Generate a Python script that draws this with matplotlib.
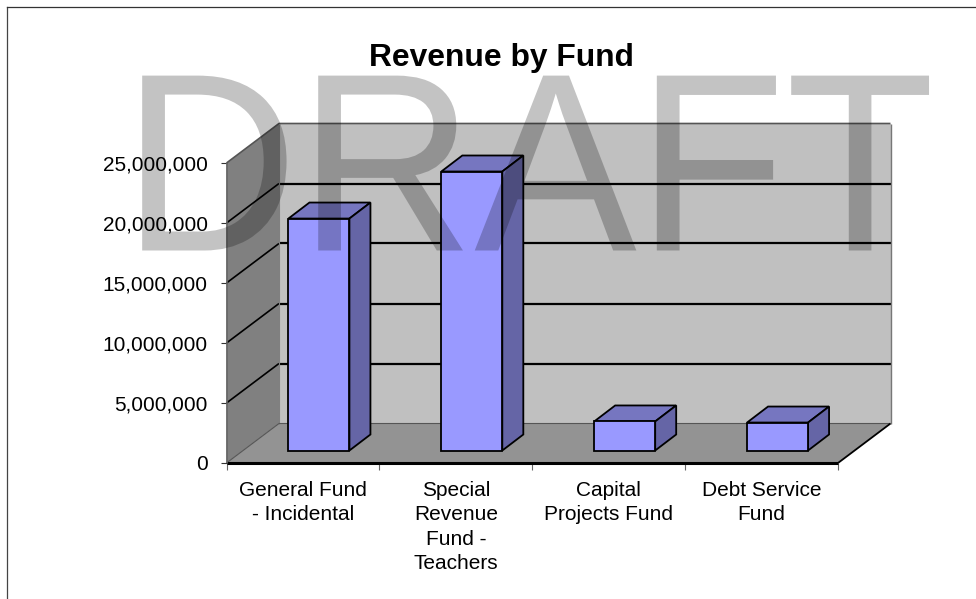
import matplotlib
matplotlib.use("Agg")
import matplotlib.pyplot as plt
import matplotlib.patheffects as pe
from matplotlib.patches import Polygon
from matplotlib.transforms import Affine2D

categories = ["General Fund\n- Incidental", "Special\nRevenue\nFund -\nTeachers",
              "Capital\nProjects Fund", "Debt Service\nFund"]
values = [19330000, 23250000, 2420000, 2330000]
y_ticks = [0, 5000000, 10000000, 15000000, 20000000, 25000000]
title = "Revenue by Fund"
watermark = "DRAFT"

W, H = 976, 599
plt.rcParams["font.family"] = ["Liberation Sans", "DejaVu Sans"]
fig = plt.figure(figsize=(W / 100, H / 100), dpi=100, facecolor="white")
L, R, T, B = 226.5, 838.0, 163.0, 463.0
ax = fig.add_axes([L / W, 1 - B / H, (R - L) / W, (B - T) / H])
ax.set_xlim(0, len(categories))
ax.set_ylim(0, y_ticks[-1])
ax.patch.set_alpha(0)
for s in ax.spines.values():
    s.set_visible(False)

# pixel sizes expressed in data units
px = len(categories) / (R - L)
py = y_ticks[-1] / (B - T)
DX, DY = 52.5 * px, 39.5 * py          # depth of the whole box
BX, BY = 16 * px, 12.5 * py            # front inset of bars
SX, SY = 21 * px, 16 * py              # bar depth
BW = 61 * px                           # bar width


def poly(pts, fc, ec="none", lw=0, z=1):
    ax.add_patch(Polygon(pts, closed=True, fc=fc, ec=ec, lw=lw, zorder=z,
                         clip_on=False, joinstyle="miter"))


def line(xs, ys, c="black", lw=1.5, z=2):
    ax.plot(xs, ys, color=c, lw=lw, zorder=z, clip_on=False, solid_capstyle="butt")


n, top = len(categories), y_ticks[-1]
# walls and floor
poly([(DX, DY), (n + DX, DY), (n + DX, top + DY), (DX, top + DY)], "#c0c0c0")
poly([(0, 0), (DX, DY), (DX, top + DY), (0, top)], "#808080")
poly([(0, 0), (n, 0), (n + DX, DY), (DX, DY)], "#939393")

# grid
for v in y_ticks[1:-1]:
    line([0, DX], [v, v + DY], "black", 1.2)
    line([DX, n + DX], [v + DY, v + DY], "black", 1.6)
line([0, DX, n + DX], [top, top + DY, top + DY], "#555555", 1.2)
line([n + DX, n + DX], [top + DY, DY], "#777777", 1.0)
line([DX, DX], [DY, top + DY], "#808080", 0.8)
line([0, DX, n + DX], [0, DY, DY], "#555555", 0.8)
line([n, n + DX], [0, DY], "black", 1.3)
line([0, n], [0, 0], "black", 2.2, z=3)
line([0, 0], [0, top], "#666666", 1.2, z=3)

# bars
for i, v in enumerate(values):
    x0 = i + 0.5 - BW / 2 + BX
    x1 = x0 + BW
    b = BY
    t = BY + v
    poly([(x0, t), (x1, t), (x1 + SX, t + SY), (x0 + SX, t + SY)], "#7676c0", "black", 1.3, 5)
    poly([(x1, b), (x1 + SX, b + SY), (x1 + SX, t + SY), (x1, t)], "#6565a6", "black", 1.3, 5)
    poly([(x0, b), (x1, b), (x1, t), (x0, t)], "#9999ff", "black", 1.3, 6)

# axes ticks and labels
ax.set_yticks(y_ticks)
ax.set_yticklabels([f"{v:,}" for v in y_ticks])
ax.set_xticks(range(n + 1))
ax.set_xticklabels([])
ax.set_xticks([i + 0.5 for i in range(n)], minor=True)
ax.set_xticklabels(categories, minor=True, linespacing=1.36)
ax.tick_params(axis="y", length=6.5 * 0.72, width=0.8, color="#333333", labelsize=15, pad=9)
ax.tick_params(axis="x", which="major", length=7 * 0.72, width=0.8, color="#666666")
ax.tick_params(axis="x", which="minor", length=0, labelsize=15, pad=13)

fig.text(501.5 / W, 1 - 58 / H, title, fontsize=22.9, fontweight="bold", ha="center", va="center")

# sheet border
fig.add_artist(plt.Line2D([7.3 / W, 7.3 / W], [0, 1 - 7.3 / H], color="#444444", lw=0.9))
fig.add_artist(plt.Line2D([7.3 / W, 1], [1 - 7.3 / H, 1 - 7.3 / H], color="#333333", lw=0.9))


class StretchY(pe.AbstractPathEffect):
    """Makes the capitals as tall as the reference's font, about the baseline."""

    def __init__(self, base, scale):
        super().__init__()
        self.base, self.scale = base, scale

    def draw_path(self, renderer, gc, tpath, affine, rgbFace=None):
        stretch = Affine2D().translate(0, -self.base).scale(1, self.scale).translate(0, self.base)
        renderer.draw_path(gc, tpath, affine + stretch, rgbFace)


# watermark
fig.text(528.5 / W, 1 - 250.5 / H, watermark, fontsize=175.5, color="black", alpha=0.235,
         ha="center", va="baseline", zorder=20,
         path_effects=[StretchY(H - 250.5, 1.043)])

fig.savefig("out.png", dpi=100)
